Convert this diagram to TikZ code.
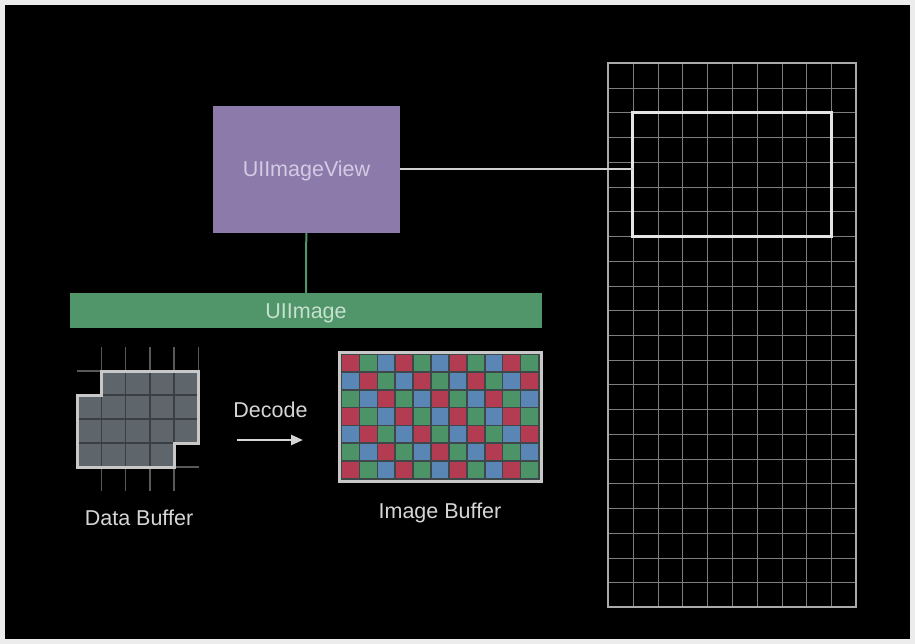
\documentclass[tikz,border=0pt]{standalone}
\usepackage{fontspec}
\setmainfont{Liberation Sans}
\usetikzlibrary{arrows.meta}
\definecolor{framegrey}{RGB}{236,236,236}
\definecolor{labelgrey}{RGB}{214,214,214}
\definecolor{viewpurple}{RGB}{139,122,170}
\definecolor{viewtext}{RGB}{212,202,228}
\definecolor{imggreen}{RGB}{80,150,106}
\definecolor{imgtext}{RGB}{200,224,206}
\definecolor{gridgrey}{RGB}{125,125,125}
\definecolor{screengrey}{RGB}{170,170,170}
\definecolor{datafill}{RGB}{94,101,107}
\definecolor{datainner}{RGB}{58,63,68}
\definecolor{stubgrey}{RGB}{88,88,88}
\definecolor{bufframe}{RGB}{200,200,200}
\definecolor{bufgap}{RGB}{62,72,74}
\definecolor{cellc0}{RGB}{180,60,82}
\definecolor{cellc1}{RGB}{76,148,104}
\definecolor{cellc2}{RGB}{90,134,182}
\begin{document}
\begin{tikzpicture}[x=1pt, y=-1pt, font=\fontsize{21.5}{24}\selectfont]
	\tikzstyle{Box} = [rectangle, inner sep=0pt, outer sep=0pt, text height=15pt, text depth=0pt]
	\tikzstyle{Label} = [text=labelgrey, anchor=base]
	\tikzstyle{GridLine} = [gridgrey, line width=1.1]
	% frame and background
	\fill[framegrey] (0,0) rectangle (915,644);
	\fill[black] (5,5) rectangle (910,639);
	\useasboundingbox (0,0) rectangle (915,644);
	% screen with its grid
	\foreach \i in {1,...,9} {
		\pgfmathsetmacro\gx{round(608+\i*24.8)+0.5}
		\draw[GridLine] (\gx,63) -- (\gx,607);
	}
	\foreach \j in {1,...,21} {
		\pgfmathsetmacro\gy{round(63+\j*24.727)+0.5}
		\draw[GridLine] (608,\gy) -- (856,\gy);
	}
	\node (screen) at (732,335) [Box, draw=screengrey, line width=1.5, minimum width=248, minimum height=544] {};
	\node (hl) at (732,174.5) [Box, draw=white!90!black, line width=3, minimum width=198.5, minimum height=124] {};
	% UIImageView and UIImage
	\node (view) at (306.5,169.5) [Box, fill=viewpurple, text=viewtext, minimum width=187, minimum height=127] {UIImageView};
	\node (img) at (306,310.8) [Box, fill=imggreen, text=imgtext, minimum width=472, minimum height=35] {UIImage};
	\draw[white!82!black, line width=2] (view.east) -- (view.east -| hl.west);
	\draw[imggreen, line width=2] (view) -- (img);
	% data buffer
	\begin{scope}[shift={(77,371)}, x=24.3pt, y=-24pt]
		\foreach \i in {1,...,5}
			\draw[stubgrey, line width=1.5] (\i,-1) -- (\i,0);
		\foreach \i in {1,...,4}
			\draw[stubgrey, line width=1.5] (\i,4) -- (\i,5);
		\draw[stubgrey, line width=1.5] (0,0) -- (1,0);
		\draw[stubgrey, line width=1.5] (4,4) -- (5,4);
		\fill[datafill] (1,0) -- (5,0) -- (5,3) -- (4,3) -- (4,4) -- (0,4) -- (0,1) -- (1,1) -- cycle;
		\foreach \i in {1,...,4}
			\draw[datainner, line width=1.5] (\i,0) -- (\i,4);
		\foreach \j in {1,...,3}
			\draw[datainner, line width=1.5] (0,\j) -- (5,\j);
		\draw[bufframe, line width=3] (1,0) -- (5,0) -- (5,3) -- (4,3) -- (4,4) -- (0,4) -- (0,1) -- (1,1) -- cycle;
	\end{scope}
	\node (datalabel) at (139,525) [Label] {Data Buffer};
	% decode
	\node (decode) at (270.5,417) [Label] {Decode};
	\coordinate (decs) at (237,440);
	\coordinate (dece) at (303,440);
	\draw[labelgrey, line width=2.5, -{Triangle[length=12pt, width=10pt]}] (decs) -- (dece);
	% image buffer
	\node (imgbuf) at (440,416.5) [Box, draw=bufframe, fill=bufgap, line width=3, minimum width=202, minimum height=129] {};
	\foreach \c in {0,...,10}
		\foreach \r in {0,...,6} {
			\pgfmathtruncatemacro\k{mod(\c-\r+21,3)}
			\fill[cellc\k] ({341.5+\c*17.9+0.8},{354.5+\r*17.7+0.8}) rectangle ({341.5+(\c+1)*17.9-0.8},{354.5+(\r+1)*17.7-0.8});
		}
	\node (buflabel) at (440,518) [Label] {Image Buffer};
\end{tikzpicture}
\end{document}
